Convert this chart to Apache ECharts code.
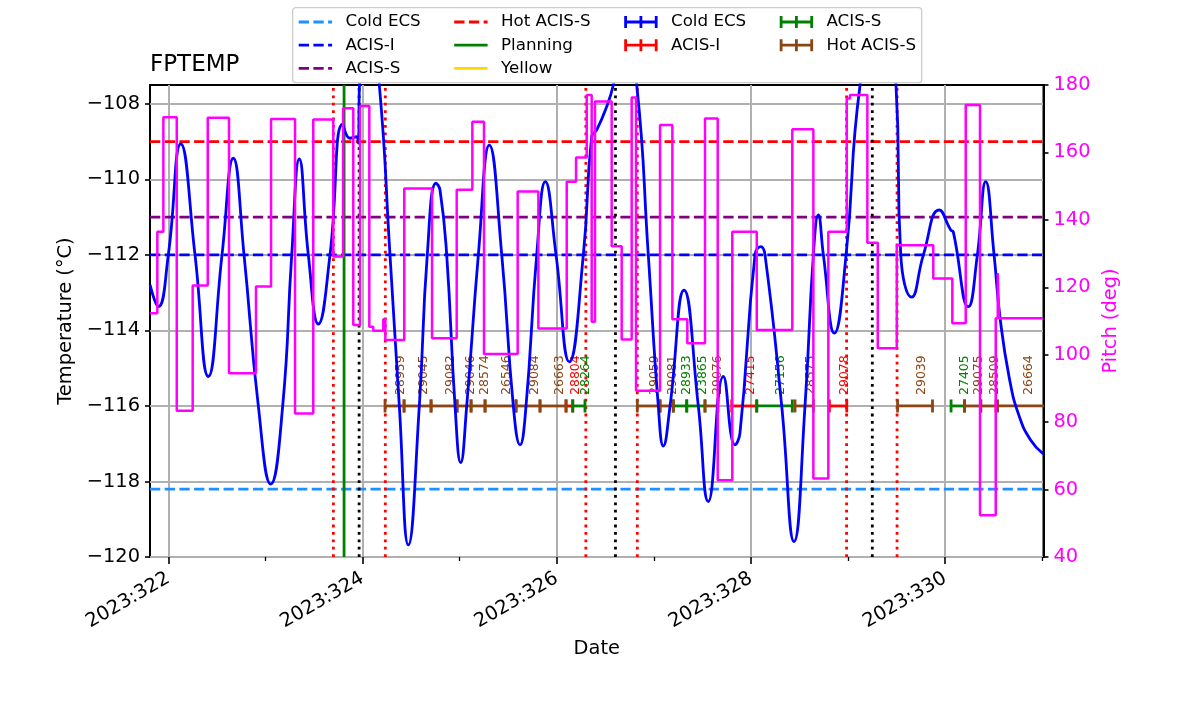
<!DOCTYPE html>
<html>
<head>
<meta charset="utf-8">
<script src="https://cdn.jsdelivr.net/npm/echarts@6/dist/echarts.min.js"></script>
<style>html,body{margin:0;padding:0;background:#fff}#c{width:1200px;height:714px}</style>
</head>
<body>
<div id="c"></div>
<script>
// ---------------- DATA ----------------
const X_MIN = 321.8115, X_MAX = 331.013;
const xTicks = [322, 324, 326, 328, 330];
const xMinorTicks = [323, 325, 327, 329, 331];
const yTicks = [-120, -118, -116, -114, -112, -110, -108];
const pitchTicks = [40, 60, 80, 100, 120, 140, 160, 180];

// FPTEMP temperature (day of 2023, degC)
const tempDays = [321.812,321.897,322.000,322.128,322.275,322.412,322.553,322.669,322.780,322.927,
  323.055,323.178,323.271,323.349,323.442,323.545,323.665,323.796,323.871,323.940,
  323.957,323.969,324.070,324.173,324.283,324.379,324.472,324.585,324.667,324.757,
  324.798,324.867,324.953,325.011,325.073,325.193,325.306,325.434,325.553,325.622,
  325.684,325.794,325.883,325.993,326.130,326.274,326.360,326.412,326.515,326.583,
  326.700,326.824,326.943,327.046,327.098,327.167,327.311,327.458,327.561,327.716,
  327.836,327.887,328.042,328.101,328.145,328.317,328.444,328.557,328.643,328.694,
  328.746,328.859,328.980,329.124,329.310,329.494,329.543,329.656,329.776,329.940,
  330.058,330.084,330.239,330.332,330.418,330.504,330.565,330.660,330.760,330.880,331.011];
const tempValues = [-112.79,-113.37,-112.0,-109.06,-112.0,-115.22,-112.0,-109.44,-112.0,-116.0,
  -118.07,-116.0,-112.0,-109.46,-112.0,-113.83,-112.0,-108.54,-108.91,-108.87,
  -109.04,-107.5,-105.8,-107.5,-112.0,-116.0,-119.68,-116.0,-112.0,-110.10,
  -110.28,-112.0,-116.0,-117.50,-116.0,-112.0,-109.09,-112.0,-116.0,-117.03,
  -116.0,-112.0,-110.06,-112.0,-114.83,-112.0,-108.87,-108.69,-108.07,-107.5,
  -106.0,-107.5,-112.0,-116.0,-117.06,-116.0,-112.93,-116.0,-118.53,-115.22,
  -117.03,-116.72,-112.0,-111.78,-112.0,-116.0,-119.59,-116.0,-112.0,-110.94,
  -112.0,-114.07,-112.0,-107.5,-105.5,-107.5,-112.0,-113.12,-112.0,-110.81,
  -111.34,-111.39,-113.37,-112.0,-110.06,-112.0,-113.65,-115.25,-116.25,-116.90,-117.27];

// Pitch (deg), value holds from each day until the next
const pitchDays = [321.812,321.887,321.949,322.087,322.251,322.406,322.625,322.903,323.058,323.305,
  323.493,323.699,323.800,323.905,323.974,324.070,324.111,324.214,324.235,324.430,
  324.716,324.970,325.131,325.251,325.598,325.811,326.103,326.199,326.309,326.360,
  326.394,326.566,326.669,326.772,326.817,327.064,327.191,327.345,327.527,327.658,
  327.808,328.060,328.426,328.643,328.797,328.987,329.020,329.199,329.306,329.502,
  329.878,330.074,330.212,330.359,330.521,330.542,330.556,331.011];
const pitchValues = [112.3,136.5,170.4,83.4,120.5,170.3,94.5,120.2,169.9,82.6,
  169.8,129.1,173.1,108.8,173.8,108.3,107.1,110.5,104.4,149.3,
  104.9,148.9,169.1,100.2,148.4,107.8,151.3,158.5,177.0,109.8,
  175.1,132.2,104.5,176.3,89.3,168.1,110.5,103.4,170.1,62.8,
  136.5,107.3,166.9,63.3,136.5,176.0,177.0,133.2,101.9,132.5,
  122.6,109.3,174.1,52.4,110.8,124.2,110.8,110.8];

// Limit lines
const limitNames = ['Cold ECS', 'ACIS-I', 'ACIS-S', 'Hot ACIS-S'];
const limitValues = [-118.2, -112.0, -111.0, -109.0];
const planningDays = [323.81];
const redDotDays = [323.70, 324.235, 326.30, 326.83, 328.985, 329.505];
const blackDotDays = [323.965, 326.605, 329.25];

// Obsids
const obsStart = [324.232,324.428,324.706,324.974,325.118,325.262,325.581,325.828,326.096,326.165,
  326.830,327.064,327.201,327.339,327.527,327.802,328.060,328.454,328.808,329.510,
  330.061,330.200,330.367,330.540];
const obsEnd = [324.428,324.706,324.974,325.118,325.262,325.581,325.828,326.096,326.165,326.291,
  327.064,327.201,327.339,327.527,327.661,328.060,328.426,328.643,328.987,329.870,
  330.200,330.367,330.524,331.040];
const obsMode = ['Hot ACIS-S','Hot ACIS-S','Hot ACIS-S','Hot ACIS-S','Hot ACIS-S','Hot ACIS-S','Hot ACIS-S','Hot ACIS-S','ACIS-I','ACIS-S',
  'Hot ACIS-S','Hot ACIS-S','ACIS-S','ACIS-S','Hot ACIS-S','ACIS-I','ACIS-S','Hot ACIS-S','ACIS-I','Hot ACIS-S',
  'ACIS-S','Hot ACIS-S','Hot ACIS-S','Hot ACIS-S'];
const obsId = ['28959','29045','29082','29046','28574','26546','29084','26663','28804','28264',
  '29059','29081','28933','23865','29076','27415','27156','28575','29078','29039',
  '27405','29075','28509','26664'];
const obsLevel = -116.0;
const obsLabelLevel = -115.71;
const obsModes = ['Cold ECS', 'ACIS-I', 'ACIS-S', 'Hot ACIS-S'];

// ---------------- STYLE ----------------
const FONT = 'DejaVu Sans';
const limitColors = {'Cold ECS':'#1e90ff','ACIS-I':'#0000ff','ACIS-S':'#800080','Hot ACIS-S':'#ff0000'};
const modeColors = {'Cold ECS':'#0000ff','ACIS-I':'#ff0000','ACIS-S':'#008000','Hot ACIS-S':'#8b4513'};
const LW = 2.8;
const DASH = [10.3, 4.4];
const DOT = [2.8, 4.6];
const minusFmt = v => (v < 0 ? '\u2212' : '') + Math.abs(v);

const series = [];
limitNames.forEach((n, i) => {
  series.push({
    name: 'limit:' + n, type: 'line', symbol: 'none', z: 2, silent: true,
    data: [[X_MIN, limitValues[i]], [X_MAX, limitValues[i]]],
    color: limitColors[n],
    lineStyle: {color: limitColors[n], width: LW, type: DASH, cap: 'butt'}
  });
});
series.push({
  name: 'Planning', type: 'line', symbol: 'none', z: 2, color: '#008000',
  data: planningDays.flatMap(d => [[d, -120], [d, -107.5]]),
  lineStyle: {color: '#008000', width: LW}
});
series.push({
  name: 'Yellow', type: 'line', symbol: 'none', z: 2, color: '#ffd700', data: [],
  lineStyle: {color: '#ffd700', width: LW}
});
redDotDays.forEach(d => series.push({
  name: 'red-dot', type: 'line', symbol: 'none', z: 2, silent: true,
  data: [[d, -120], [d, -107.5]],
  lineStyle: {color: '#ff0000', width: LW, type: DOT, cap: 'butt'}
}));
blackDotDays.forEach(d => series.push({
  name: 'black-dot', type: 'line', symbol: 'none', z: 2, silent: true,
  data: [[d, -120], [d, -107.5]],
  lineStyle: {color: '#000000', width: LW, type: DOT, cap: 'butt'}
}));

obsModes.forEach(mode => {
  const idx = obsMode.map((m, i) => m === mode ? i : -1).filter(i => i >= 0);
  const col = modeColors[mode];
  series.push({
    name: 'obsid:' + mode, type: 'custom', z: 3, clip: true, silent: true,
    itemStyle: {color: col},
    data: idx.map(i => [obsStart[i], obsEnd[i], obsLevel, i]),
    encode: {x: [0, 1], y: 2},
    renderItem: (params, api) => {
      const i = api.value(3);
      const p0 = api.coord([api.value(0), api.value(2)]);
      const p1 = api.coord([api.value(1), api.value(2)]);
      const m = api.coord([(api.value(0) + api.value(1)) / 2, obsLabelLevel]);
      const capH = 6.5;
      return {type: 'group', children: [
        {type: 'line', shape: {x1: p0[0], y1: p0[1], x2: p1[0], y2: p1[1]}, style: {stroke: col, lineWidth: LW}},
        {type: 'line', shape: {x1: p0[0], y1: p0[1] - capH, x2: p0[0], y2: p0[1] + capH}, style: {stroke: col, lineWidth: LW}},
        {type: 'line', shape: {x1: p1[0], y1: p1[1] - capH, x2: p1[0], y2: p1[1] + capH}, style: {stroke: col, lineWidth: LW}},
        {type: 'text', x: m[0], y: m[1], rotation: Math.PI / 2,
          style: {text: obsId[i], fill: col, font: '12.5px "DejaVu Sans"', align: 'left', verticalAlign: 'top'}}
      ]};
    }
  });
});

series.push({
  name: 'FPTEMP', type: 'line', symbol: 'none', z: 4, smooth: 0.5,
  data: tempDays.map((d, i) => [d, tempValues[i]]),
  lineStyle: {color: '#0000ff', width: LW}, color: '#0000ff'
});
series.push({
  name: 'Pitch', type: 'line', symbol: 'none', z: 5, yAxisIndex: 1, step: 'end',
  data: pitchDays.map((d, i) => [d, pitchValues[i]]),
  lineStyle: {color: '#ff00ff', width: 2.5}, color: '#ff00ff'
});

// ---------------- LEGEND ----------------
const dashIcon = 'path://M0,0H103V28H0Z M147,0H250V28H147Z M294,0H334V28H294Z';
const solidIcon = 'path://M0,0H334V28H0Z';
const ebIcon = 'path://M0,46H334V74H0Z M0,0H28V120H0Z M153,0H181V120H153Z M306,0H334V120H306Z';
const legBase = {
  orient: 'vertical', padding: 0, itemGap: 6.2, itemWidth: 33.4, top: 13.5,
  symbolKeepAspect: false, selectedMode: false,
  formatter: n => n.indexOf(':') >= 0 ? n.split(':')[1] : n,
  textStyle: {fontSize: 16.7, fontFamily: FONT, color: '#000', lineHeight: 15, padding: [0, 0, 0, 8.4]},
  itemStyle: {borderWidth: 0}
};
const legends = [
  Object.assign({}, legBase, {left: 298.7, itemHeight: 2.8, data: [
    {name: 'limit:Cold ECS', icon: dashIcon, itemStyle: {color: limitColors['Cold ECS'], borderWidth: 0}},
    {name: 'limit:ACIS-I', icon: dashIcon, itemStyle: {color: limitColors['ACIS-I'], borderWidth: 0}},
    {name: 'limit:ACIS-S', icon: dashIcon, itemStyle: {color: limitColors['ACIS-S'], borderWidth: 0}}]}),
  Object.assign({}, legBase, {left: 454.2, itemHeight: 2.8, data: [
    {name: 'limit:Hot ACIS-S', icon: dashIcon, itemStyle: {color: limitColors['Hot ACIS-S'], borderWidth: 0}},
    {name: 'Planning', icon: solidIcon, itemStyle: {color: '#008000', borderWidth: 0}},
    {name: 'Yellow', icon: solidIcon, itemStyle: {color: '#ffd700', borderWidth: 0}}]}),
  Object.assign({}, legBase, {left: 624.2, itemHeight: 12, data: [
    {name: 'obsid:Cold ECS', icon: ebIcon, itemStyle: {color: modeColors['Cold ECS'], borderWidth: 0}},
    {name: 'obsid:ACIS-I', icon: ebIcon, itemStyle: {color: modeColors['ACIS-I'], borderWidth: 0}}]}),
  Object.assign({}, legBase, {left: 779.7, itemHeight: 12, data: [
    {name: 'obsid:ACIS-S', icon: ebIcon, itemStyle: {color: modeColors['ACIS-S'], borderWidth: 0}},
    {name: 'obsid:Hot ACIS-S', icon: ebIcon, itemStyle: {color: modeColors['Hot ACIS-S'], borderWidth: 0}}]})
];

const axisFont = {fontSize: 19.4, fontFamily: FONT, color: '#000'};

const option = {
  animation: false,
  backgroundColor: '#ffffff',
  textStyle: {fontFamily: FONT},
  title: {text: 'FPTEMP', left: 150, top: 54, padding: 0,
    textStyle: {fontSize: 23, fontWeight: 'normal', fontFamily: FONT, color: '#000'}},
  graphic: [{type: 'rect', left: 292, top: 7, z: 1,
    shape: {width: 629, height: 75, r: 3},
    style: {fill: 'rgba(255,255,255,0.8)', stroke: '#cccccc', lineWidth: 1.3}}],
  legend: legends,
  grid: {left: 150, top: 85, width: 893.5, height: 472, show: true,
    borderColor: '#000', borderWidth: 2, backgroundColor: 'transparent', containLabel: false},
  xAxis: [{
    type: 'value', min: X_MIN, max: X_MAX, position: 'bottom',
    axisLine: {show: false},
    axisTick: {show: true, customValues: xTicks, length: 7, lineStyle: {color: '#000', width: 1.6}},
    axisLabel: Object.assign({customValues: xTicks, rotate: 30, margin: 20,
      formatter: v => '2023:' + v}, axisFont),
    splitLine: {show: true, lineStyle: {color: '#b0b0b0', width: 2}},
    name: 'Date', nameLocation: 'middle', nameGap: 82, nameTextStyle: axisFont
  }, {
    type: 'value', min: X_MIN, max: X_MAX, position: 'bottom',
    axisLine: {show: false}, axisLabel: {show: false}, splitLine: {show: false},
    axisTick: {show: true, customValues: xMinorTicks, length: 4, lineStyle: {color: '#000', width: 1.3}}
  }],
  yAxis: [{
    type: 'value', min: -120, max: -107.5, interval: 2, position: 'left',
    axisLine: {show: false},
    axisTick: {show: true, customValues: yTicks, length: 5, lineStyle: {color: '#000', width: 1.6}},
    axisLabel: Object.assign({customValues: yTicks, margin: 10, formatter: minusFmt}, axisFont),
    splitLine: {show: true, lineStyle: {color: '#b0b0b0', width: 2}},
    name: 'Temperature (°C)', nameLocation: 'middle', nameGap: 68, nameTextStyle: axisFont
  }, {
    type: 'value', min: 40, max: 180, interval: 20, position: 'right',
    axisLine: {show: true, lineStyle: {color: '#000', width: 2}},
    axisTick: {show: true, length: 5, lineStyle: {color: '#000', width: 1.6}},
    axisLabel: Object.assign({}, axisFont, {color: '#ff00ff', margin: 10}),
    splitLine: {show: false},
    name: 'Pitch (deg)', nameLocation: 'middle', nameGap: 52,
    nameTextStyle: Object.assign({}, axisFont, {color: '#ff00ff'})
  }],
  series: series
};

const chart = echarts.init(document.getElementById('c'), null, {renderer: 'canvas', width: 1200, height: 714});
chart.setOption(option);
</script>
</body>
</html>
